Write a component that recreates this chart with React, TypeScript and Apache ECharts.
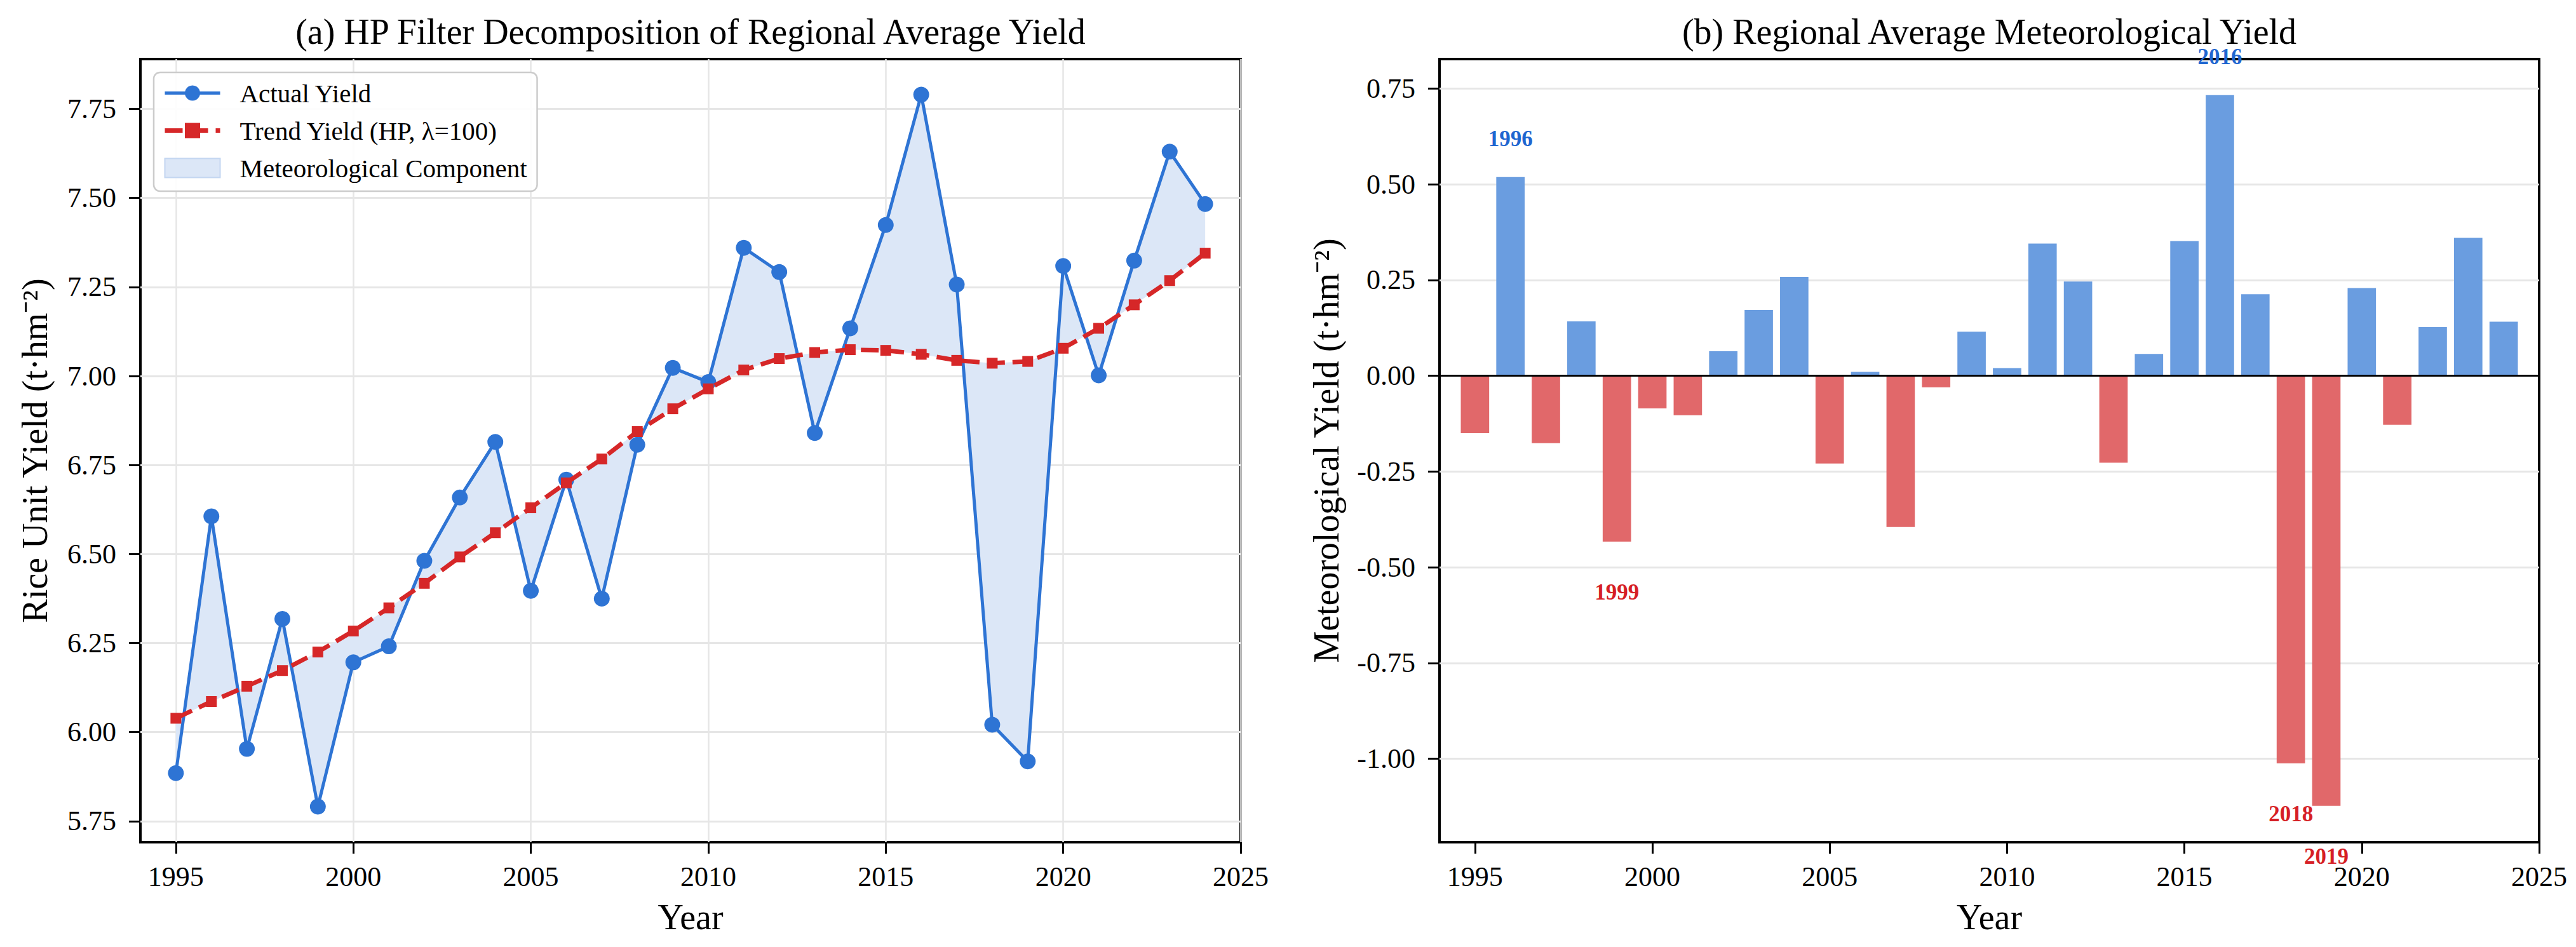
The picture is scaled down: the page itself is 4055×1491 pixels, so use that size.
import React, { useEffect, useRef } from 'react';
import * as echarts from 'echarts';

// ---------- data ----------
const years = [1995, 1996, 1997, 1998, 1999, 2000, 2001, 2002, 2003, 2004, 2005, 2006, 2007, 2008, 2009, 2010, 2011, 2012, 2013, 2014, 2015, 2016, 2017, 2018, 2019, 2020, 2021, 2022, 2023, 2024];
const actualYield = [5.885, 6.606, 5.953, 6.318, 5.791, 6.196, 6.241, 6.481, 6.659, 6.815, 6.397, 6.709, 6.375, 6.807, 7.023, 6.983, 7.360, 7.292, 6.840, 7.134, 7.424, 7.790, 7.257, 6.021, 5.918, 7.309, 7.002, 7.324, 7.630, 7.483];
const trendYield = [6.039, 6.086, 6.129, 6.173, 6.225, 6.284, 6.349, 6.418, 6.492, 6.560, 6.630, 6.700, 6.767, 6.844, 6.908, 6.964, 7.017, 7.049, 7.066, 7.074, 7.072, 7.061, 7.044, 7.036, 7.041, 7.078, 7.134, 7.200, 7.268, 7.345];
const meteoYield = [-0.150, 0.519, -0.176, 0.142, -0.433, -0.085, -0.103, 0.064, 0.172, 0.258, -0.229, 0.010, -0.395, -0.030, 0.115, 0.020, 0.345, 0.246, -0.227, 0.057, 0.352, 0.733, 0.213, -1.012, -1.123, 0.229, -0.128, 0.127, 0.360, 0.141];
const labeledYears = [1996, 1999, 2016, 2018, 2019];
const xTicks = [1995, 2000, 2005, 2010, 2015, 2020, 2025];
const leftYTicks = [5.75, 6.0, 6.25, 6.5, 6.75, 7.0, 7.25, 7.5, 7.75];
const rightYTicks = [-1.0, -0.75, -0.5, -0.25, 0, 0.25, 0.5, 0.75];

const seriesNames = ['Actual Yield', 'Trend Yield (HP, λ=100)', 'Meteorological Component'];
const titles = ['(a) HP Filter Decomposition of Regional Average Yield', '(b) Regional Average Meteorological Yield'];
const yNames = ['Rice Unit Yield (t·hm⁻²)', 'Meteorological Yield (t·hm⁻²)'];

// ---------- styling / layout ----------
const FONT = "'Liberation Serif', 'Times New Roman', serif";
const BLUE = '#2E74D4';
const RED = '#D62728';
const FILL = '#DCE7F7';
const BAR_POS = '#6A9DE0';
const BAR_NEG = '#E1686A';
const LABEL_BLUE = '#1F66D0';
const LABEL_RED = '#D61F26';
const GRID_COLOR = '#E6E6E6';

const X_MIN = 1994;
const X_MAX = 2025;
const L_Y = [5.691, 7.89];
const R_Y = [-1.218, 0.827];

const gridL = { left: 221, top: 93, width: 1732, height: 1233 };
const gridR = { left: 2266, top: 93, width: 1731, height: 1233 };

const tickFont = { fontFamily: FONT, fontSize: 44, color: '#000' };
const nameFont = { fontFamily: FONT, fontSize: 56, color: '#000' };

function xAxisCfg(gridIndex: number) {
  return {
    type: 'value',
    gridIndex,
    min: X_MIN,
    max: X_MAX,
    name: 'Year',
    nameLocation: 'middle',
    nameGap: 90,
    nameTextStyle: nameFont,
    axisLine: { show: false, onZero: false },
    axisTick: { show: true, customValues: xTicks, length: 18, lineStyle: { color: '#000', width: 3 } },
    axisLabel: { customValues: xTicks, margin: 32, ...tickFont, formatter: (v: number) => String(v) },
    splitLine: { show: gridIndex === 0, lineStyle: { color: GRID_COLOR, width: 2.5 } },
  };
}

function yAxisCfg(gridIndex: number, range: number[], ticks: number[], name: string, gap: number) {
  return {
    type: 'value',
    gridIndex,
    min: range[0],
    max: range[1],
    name,
    nameLocation: 'middle',
    nameRotate: 90,
    nameGap: gap,
    nameTextStyle: nameFont,
    axisLine: { show: false, onZero: false },
    axisTick: { show: true, customValues: ticks, length: 18, lineStyle: { color: '#000', width: 3 } },
    axisLabel: { customValues: ticks, margin: 38, ...tickFont, formatter: (v: number) => v.toFixed(2) },
    splitLine: { show: true, lineStyle: { color: GRID_COLOR, width: 3 } },
  };
}

export default function App() {
  const ref = useRef<HTMLDivElement>(null);

  useEffect(() => {
    document.body.style.margin = '0';
    document.body.style.overflow = 'hidden';
    const chart = echarts.init(ref.current as HTMLDivElement, undefined, { renderer: 'svg' });
    const barWidth = (gridR.width / (X_MAX - X_MIN)) * 0.8;

    const option: any = {
      animation: false,
      backgroundColor: '#fff',
      textStyle: { fontFamily: FONT },
      graphic: [
        {
          type: 'text',
          x: gridL.left + gridL.width / 2,
          y: 50,
          style: { text: titles[0], fontFamily: FONT, fontSize: 56, fill: '#000', align: 'center', verticalAlign: 'middle' },
        },
        {
          type: 'text',
          x: gridR.left + gridR.width / 2,
          y: 50,
          style: { text: titles[1], fontFamily: FONT, fontSize: 56, fill: '#000', align: 'center', verticalAlign: 'middle' },
        },
      ],
      grid: [
        { ...gridL, show: true, borderColor: '#000', borderWidth: 4, backgroundColor: 'rgba(0,0,0,0)' },
        { ...gridR, show: true, borderColor: '#000', borderWidth: 4, backgroundColor: 'rgba(0,0,0,0)' },
      ],
      xAxis: [xAxisCfg(0), xAxisCfg(1)],
      yAxis: [
        yAxisCfg(0, L_Y, leftYTicks, yNames[0], 138),
        yAxisCfg(1, R_Y, rightYTicks, yNames[1], 150),
      ],
      legend: {
        left: 242,
        top: 114,
        orient: 'vertical',
        selectedMode: false,
        data: [
          { name: seriesNames[0] },
          { name: seriesNames[1] },
          { name: seriesNames[2], icon: 'rect', itemStyle: { color: FILL, borderColor: '#C3D6F1', borderWidth: 2 } },
        ],
        itemWidth: 87,
        itemHeight: 30,
        itemGap: 18,
        padding: [12, 16, 16, 14],
        backgroundColor: 'rgba(255,255,255,0.9)',
        borderColor: '#CCCCCC',
        borderWidth: 2.5,
        borderRadius: 10,
        lineStyle: { width: 'inherit' },
        textStyle: { fontFamily: FONT, fontSize: 41, lineHeight: 41, color: '#000', padding: [0, 0, 0, 26] },
      },
      series: [
        {
          type: 'custom',
          name: seriesNames[2],
          xAxisIndex: 0,
          yAxisIndex: 0,
          z: 1,
          silent: true,
          itemStyle: { color: FILL },
          data: [[years[0], actualYield[0]]],
          renderItem: (params: any, api: any) => {
            const fwd = years.map((y, i) => api.coord([y, actualYield[i]]));
            const back = years.map((y, i) => api.coord([y, trendYield[i]])).reverse();
            return {
              type: 'polygon',
              shape: { points: fwd.concat(back) },
              style: { fill: FILL, stroke: 'none' },
            };
          },
        },
        {
          type: 'line',
          name: seriesNames[0],
          xAxisIndex: 0,
          yAxisIndex: 0,
          z: 3,
          data: years.map((y, i) => [y, actualYield[i]]),
          symbol: 'circle',
          symbolSize: 25,
          showSymbol: true,
          lineStyle: { color: BLUE, width: 5 },
          itemStyle: { color: BLUE },
        },
        {
          type: 'line',
          name: seriesNames[1],
          xAxisIndex: 0,
          yAxisIndex: 0,
          z: 4,
          data: years.map((y, i) => [y, trendYield[i]]),
          symbol: 'rect',
          symbolSize: 17,
          showSymbol: true,
          lineStyle: { color: RED, width: 7, type: [28, 12] },
          itemStyle: { color: RED },
        },
        {
          type: 'bar',
          name: 'Meteorological Yield',
          xAxisIndex: 1,
          yAxisIndex: 1,
          barWidth,
          z: 3,
          data: years.map((y, i) => {
            const v = meteoYield[i];
            const pos = v >= 0;
            const show = labeledYears.includes(y);
            return {
              value: [y, v],
              itemStyle: { color: pos ? BAR_POS : BAR_NEG },
              label: show
                ? {
                    show: true,
                    position: pos ? 'top' : 'bottom',
                    distance: pos ? 43 : 62,
                    formatter: String(y),
                    color: pos ? LABEL_BLUE : LABEL_RED,
                    fontFamily: FONT,
                    fontWeight: 'bold',
                    fontSize: 35,
                  }
                : { show: false },
            };
          }),
          markLine: {
            silent: true,
            symbol: 'none',
            label: { show: false },
            lineStyle: { color: '#000', width: 3, type: 'solid' },
            data: [{ yAxis: 0 }],
          },
        },
      ],
    };

    chart.setOption(option);
    return () => chart.dispose();
  }, []);

  return <div ref={ref} style={{ position: 'fixed', left: 0, top: 0, width: 4055, height: 1491 }} />;
}
